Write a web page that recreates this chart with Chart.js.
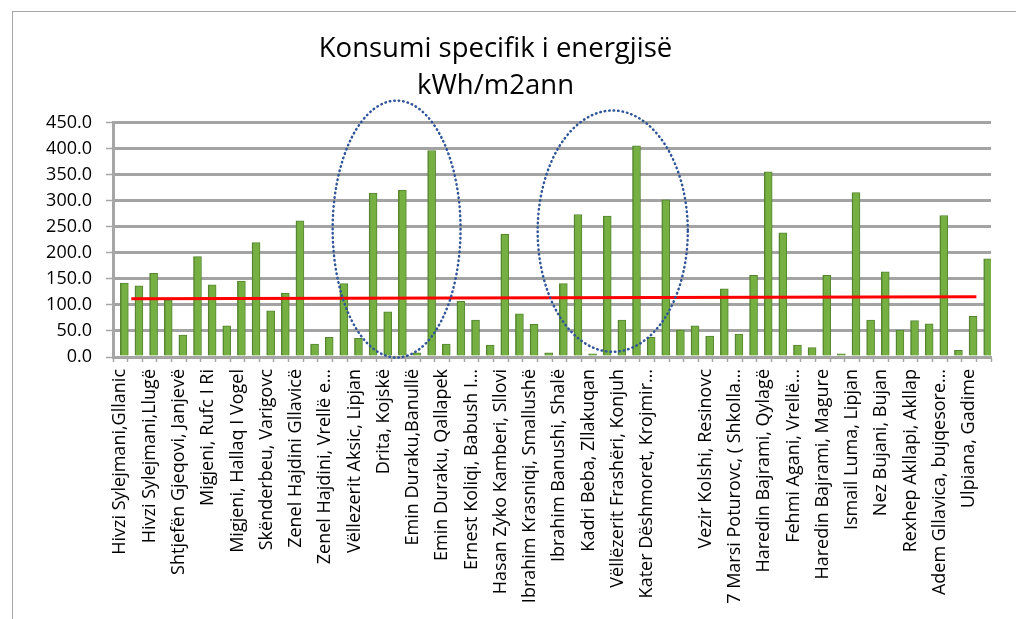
<!DOCTYPE html>
<html>
<head>
    <title>Konsumi specifik i energjisë</title>
    <style>
        body {
            margin: 0;
            background: #fff;
        }
        .chart-box {
            width: 1016px;
            height: 619px;
        }
    </style>
    <script src="https://cdn.jsdelivr.net/npm/chart.js"></script>
</head>
<body>

    <div class="chart-box">
        <canvas id="energyChart"></canvas>
    </div>

    <script>
        // school names, only every other one is shown on the axis
        const schools = [
            'Hivzi Sylejmani,Gllanic', '',
            'Hivzi Sylejmani,Llugë', '',
            'Shtjefën Gjeqovi, Janjevë', '',
            'Migjeni, Rufc I Ri', '',
            'Migjeni, Hallaq I Vogel', '',
            'Skënderbeu, Varigovc', '',
            'Zenel Hajdini Gllavicë', '',
            'Zenel Hajdini, Vrellë e…', '',
            'Vëllezerit Aksic, Lipjan', '',
            'Drita, Kojskë', '',
            'Emin Duraku,Banullë', '',
            'Emin Duraku, Qallapek', '',
            'Ernest Koliqi, Babush I…', '',
            'Hasan Zyko Kamberi, Sllovi', '',
            'Ibrahim Krasniqi, Smallushë', '',
            'Ibrahim Banushi, Shalë', '',
            'Kadri Beba, Zllakuqan', '',
            'Vëllëzerit Frashëri, Konjuh', '',
            'Kater Dëshmoret, Krojmir…', '',
            '', '',
            'Vezir Kolshi, Resinovc', '',
            '7 Marsi Poturovc, ( Shkolla…', '',
            'Haredin Bajrami, Qylagë', '',
            'Fehmi Agani, Vrellë…', '',
            'Haredin Bajrami, Magure', '',
            'Ismail Luma, Lipjan', '',
            'Nez Bujani, Bujan', '',
            'Rexhep Akllapi, Akllap', '',
            'Adem Gllavica, bujqesore…', '',
            'Ulpiana, Gadime', ''
        ];

        // kWh/m2 per year
        const consumption = [
            142, 137, 161, 110, 42, 193, 139, 60, 146, 220,
            89, 123, 262, 25, 38, 141, 36, 315, 87, 321,
            8, 397, 25, 107, 71, 23, 236, 83, 63, 8,
            141, 274, 6, 271, 71, 406, 38, 302, 52, 60,
            40, 131, 44, 157, 356, 239, 23, 18, 157, 6,
            316, 71, 164, 52, 70, 64, 272, 13, 78, 189
        ];

        // red reference line (start / end), x in category units
        const refLineX = [1.25, 59.0];
        const refLineY = [112, 116];

        // dotted ellipses: centre and radius in category units / kWh units
        const circleCx = [19.38, 34.15];
        const circleRx = [4.37, 5.13];
        const circleCy = [246, 242];
        const circleRy = [247, 232];

        const yTicks = [0, 50, 100, 150, 200, 250, 300, 350, 400, 450];

        const frame = {
            id: 'frame',
            beforeDraw(chart) {
                const c = chart.ctx;
                c.save();
                c.strokeStyle = '#a6a6a6';
                c.lineWidth = 1;
                c.strokeRect(12.5, 11.5, 1100, 700);
                c.restore();
            }
        };

        const circles = {
            id: 'circles',
            afterDraw(chart) {
                const c = chart.ctx;
                const xs = chart.scales.x2;
                const ys = chart.scales.y;
                c.save();
                c.strokeStyle = '#2f5597';
                c.lineWidth = 2.5;
                c.lineCap = 'round';
                c.setLineDash([0.5, 4]);
                for (let i = 0; i < circleCx.length; i++) {
                    const cx = xs.getPixelForValue(circleCx[i]);
                    const rx = xs.getPixelForValue(circleCx[i] + circleRx[i]) - cx;
                    const cy = ys.getPixelForValue(circleCy[i]);
                    const ry = ys.getPixelForValue(circleCy[i] - circleRy[i]) - cy;
                    c.beginPath();
                    c.ellipse(cx, cy, rx, ry, 0, 0, Math.PI * 2);
                    c.stroke();
                }
                c.restore();
            }
        };

        const font = 'Open Sans';

        const ctx = document.getElementById('energyChart').getContext('2d');
        new Chart(ctx, {
            data: {
                labels: schools,
                datasets: [{
                    type: 'line',
                    order: 0,
                    xAxisID: 'x2',
                    data: refLineX.map((x, i) => ({ x: x, y: refLineY[i] })),
                    borderColor: '#ff0000',
                    borderWidth: 3,
                    pointRadius: 0,
                    fill: false
                }, {
                    type: 'bar',
                    order: 1,
                    xAxisID: 'x',
                    data: consumption,
                    backgroundColor: '#76b043',
                    borderColor: '#55862f',
                    borderWidth: { left: 1.5, right: 1, top: 1, bottom: 0 },
                    borderSkipped: false,
                    barThickness: 8
                }]
            },
            options: {
                responsive: true,
                maintainAspectRatio: false,
                animation: false,
                layout: {
                    padding: { left: 0, right: 25, top: 31, bottom: 0 }
                },
                plugins: {
                    legend: { display: false },
                    tooltip: { enabled: false },
                    title: {
                        display: true,
                        text: ['Konsumi specifik i energjisë', 'kWh/m2ann'],
                        color: '#000',
                        font: { family: font, size: 27.5, weight: 'normal', lineHeight: 1.345 },
                        padding: { top: 0, bottom: 18 }
                    }
                },
                scales: {
                    x: {
                        type: 'category',
                        offset: true,
                        afterFit(scale) { scale.height = 262; },
                        border: { display: true, color: '#a6a6a6', width: 2 },
                        grid: {
                            offset: true,
                            drawOnChartArea: false,
                            drawTicks: true,
                            tickLength: 5,
                            tickColor: '#a6a6a6',
                            tickWidth: 1.5
                        },
                        ticks: {
                            autoSkip: false,
                            minRotation: 90,
                            maxRotation: 90,
                            padding: 7,
                            color: '#000',
                            font: { family: font, size: 18 }
                        }
                    },
                    x2: {
                        type: 'linear',
                        display: false,
                        min: 0,
                        max: 60
                    },
                    y: {
                        min: 0,
                        max: 450,
                        afterFit(scale) { scale.width = 113; },
                        afterBuildTicks(scale) {
                            scale.ticks = yTicks.map(v => ({ value: v }));
                        },
                        border: { display: true, color: '#a6a6a6', width: 3 },
                        grid: {
                            color: '#a3a3a3',
                            lineWidth: 3,
                            drawTicks: true,
                            tickLength: 7,
                            tickColor: '#a6a6a6',
                            tickWidth: 1.5
                        },
                        ticks: {
                            padding: 14,
                            color: '#000',
                            font: { family: font, size: 18 },
                            callback: v => v.toFixed(1)
                        }
                    }
                }
            },
            plugins: [frame, circles]
        });
    </script>

</body>
</html>
